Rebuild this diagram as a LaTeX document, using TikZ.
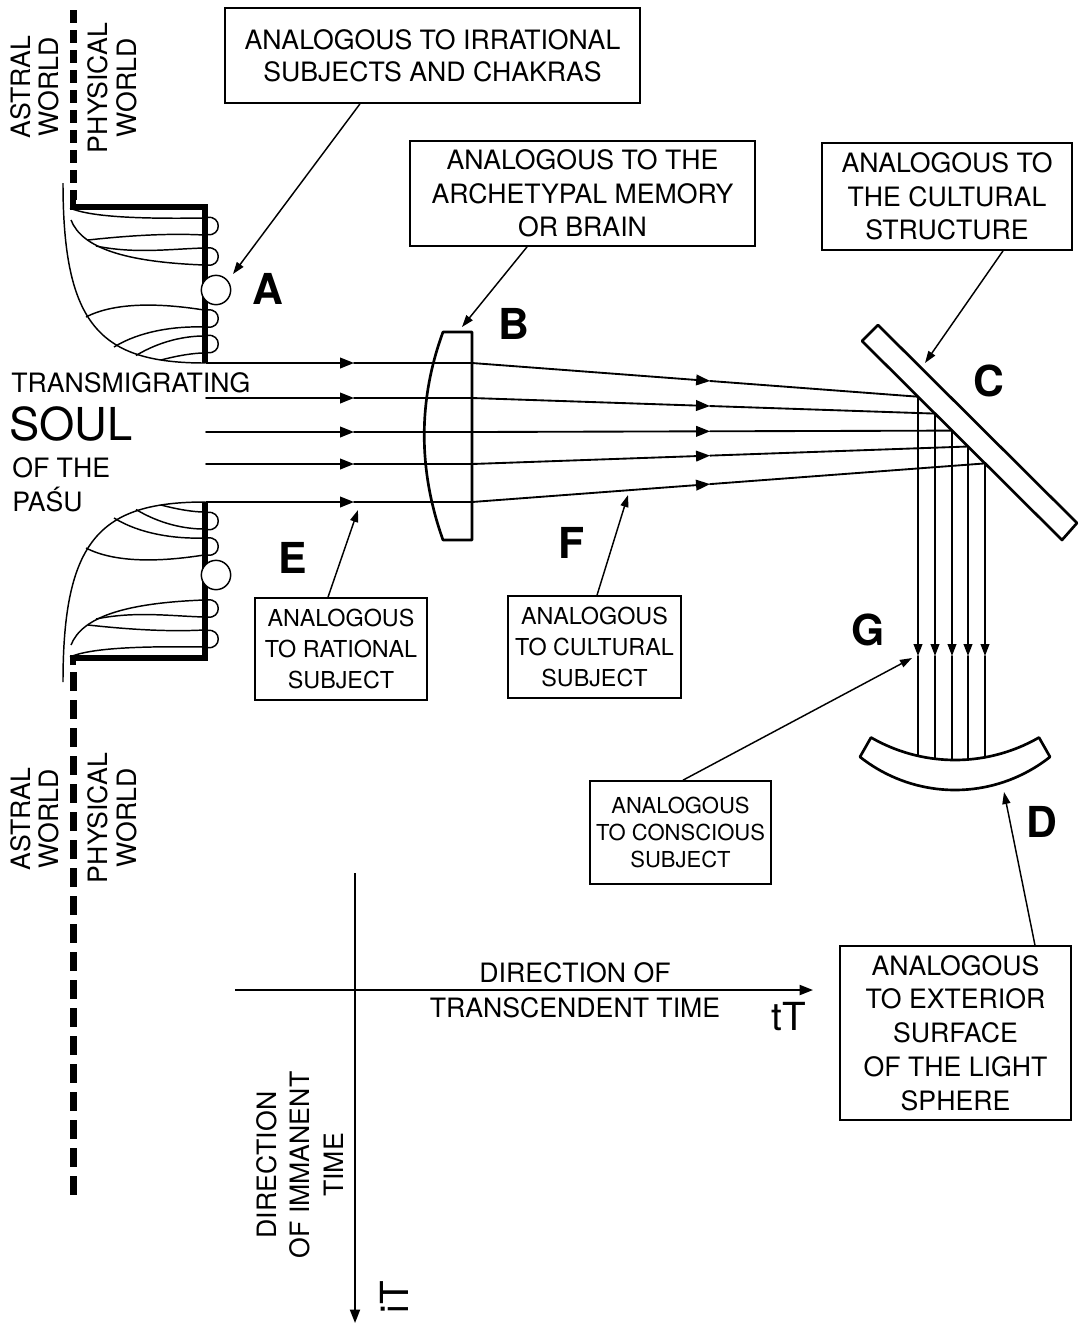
\documentclass[tikz,border=0pt]{standalone}
\usepackage{fontspec}
\setmainfont{TeX Gyre Heros}
\usetikzlibrary{arrows.meta,calc}
\begin{document}
\begin{tikzpicture}[x=0.75pt,y=-0.75pt,
  box/.style={draw, line width=1.3pt, inner sep=0pt, align=center},
  f20/.style={font=\fontsize{20}{25}\selectfont},
  f17/.style={font=\fontsize{17.5}{23}\selectfont},
  f16/.style={font=\fontsize{16.5}{20.5}\selectfont},
  ray/.style={line width=1.4pt, line cap=round},
  harr/.style={ray,-{Triangle[length=10.5pt,width=8pt]}},
  varr/.style={ray,-{Triangle[length=9pt,width=6.5pt]}},
  axisline/.style={line width=1.4pt,-{Triangle[length=10pt,width=7.5pt]}},
  conn/.style={line width=1.1pt,-{Triangle[length=9pt,width=6pt]}},
  optic/.style={line width=2pt, line join=round},
  bar/.style={line width=4.5pt, line join=miter},
  strand/.style={line width=1.1pt},
  dashline/.style={line width=5.25pt},
  letter/.style={inner sep=0pt, font=\fontsize{32}{32}\selectfont\bfseries},
  lbl/.style={inner sep=0pt, align=center},
]
\useasboundingbox[fill=white] (0,0) rectangle (1083,1325);

% dashed world boundary
\draw[dashline, dash pattern=on 9.75pt off 5.25pt] (73,10) -- (73,200);
\draw[dashline, dash pattern=on 14.25pt off 6.75pt] (73,672) -- (73,1197);

% the two bowls (bottom one is mirrored)
\foreach \sh/\ys in {0/1,865/-1}{
 \begin{scope}[shift={(0,\sh)}, yscale=\ys]
   \draw[bar] (73,200) -- (73,207) -- (205,207) -- (205,363);
   \draw[strand] (63,183) .. controls (63,325) and (100,363) .. (205,363);
   \draw[strand] (70,208) .. controls (90,217) and (140,219) .. (204,218);
   \draw[strand] (71,220) .. controls (82,248) and (125,262) .. (204,265);
   \draw[strand] (88,240) .. controls (125,236) and (165,233) .. (204,235);
   \draw[strand] (96,246) .. controls (135,254) and (170,249) .. (204,248);
   \draw[strand] (86,317) .. controls (115,302) and (160,303) .. (204,310);
   \draw[strand] (114,347) .. controls (140,331) and (175,326) .. (204,327);
   \draw[strand] (136,355.5) .. controls (160,341) and (185,336) .. (204,336);
   \draw[strand] (161,360) .. controls (180,355) and (195,353) .. (204,353);
   \foreach \c in {226,256.5,318.5,344}
     \draw[strand] (207,\c-8.5) .. controls (222,\c-11) and (222,\c+11) .. (207,\c+8.5);
   \draw[strand, fill=white] (216,290) circle[radius=11pt];
 \end{scope}
}

% rays
\foreach \i/\y/\hx/\hy/\dy/\f in {1/363/918/396.7/755.9/0.534, 2/398/935/413.6/758.8/0.514, 3/432/952/430.6/760/0.496, 4/464/968/446.5/759.5/0.48, 5/502/985/463.4/757.3/0.464}{
  \coordinate (s\i) at (206,\y);
  \coordinate (a\i) at (354,\y);
  \coordinate (l\i) at (472,\y);
  \coordinate (h\i) at (\hx,\hy);
  \coordinate (m\i) at ($(l\i)!\f!(h\i)$);
  \coordinate (g\i) at (\hx,656);
  \coordinate (d\i) at (\hx,\dy);
  \draw[harr] (s\i) -- (a\i);
  \draw[ray] (a\i) -- (l\i);
  \draw[harr] (l\i) -- (m\i);
  \draw[ray] (m\i) -- (h\i);
  \draw[varr] (h\i) -- (g\i);
  \draw[ray] (g\i) -- (d\i);
}

% lens B
\draw[optic] (443,332) -- (472,332) -- (472,540) -- (443,540) .. controls (418,470) and (418,400) .. (443,332) -- cycle;
% mirror C
\draw[optic] (878,325) -- (1077,523) -- (1062,540) -- (862,341) -- cycle;
% mirror D
\draw[optic] plot[domain=60:120,samples=40] ({955+168*cos(\x)},{592+168*sin(\x)}) -- plot[domain=128.4:51.6,samples=40] ({955+153*cos(\x)},{637+153*sin(\x)}) -- cycle;

% letters
\node[letter] (A) at (268,289) {A};
\node[letter] (B) at (514,324) {B};
\node[letter] (C) at (989,381) {C};
\node[letter] (D) at (1042,822) {D};
\node[letter] (E) at (293,558) {E};
\node[letter] (F) at (572,543) {F};
\node[letter] (G) at (868,630) {G};

% boxes
\node[box, font=\fontsize{20}{24}\selectfont, minimum width=311.25pt, minimum height=71.25pt] (b1) at (432.5,55.5) {ANALOGOUS TO IRRATIONAL\\SUBJECTS AND CHAKRAS};
\node[box, f20, minimum width=258.75pt, minimum height=78.75pt] (b2) at (582.5,193.5) {ANALOGOUS TO THE\\ARCHETYPAL MEMORY\\OR BRAIN};
\node[box, f20, minimum width=187.5pt, minimum height=80.25pt] (b3) at (947,196.5) {ANALOGOUS TO\\THE CULTURAL\\STRUCTURE};
\node[box, f17, minimum width=129pt, minimum height=76.5pt] (b4) at (341,649) {ANALOGOUS\\TO RATIONAL\\SUBJECT};
\node[box, f17, minimum width=129.75pt, minimum height=76.5pt] (b5) at (594.5,647) {ANALOGOUS\\TO CULTURAL\\SUBJECT};
\node[box, f16, minimum width=135.75pt, minimum height=77.25pt] (b6) at (680.5,832.5) {ANALOGOUS\\TO CONSCIOUS\\SUBJECT};
\node[box, font=\fontsize{20}{25.4}\selectfont, minimum width=173.25pt, minimum height=130.5pt] (b7) at (955.5,1033) {ANALOGOUS\\TO EXTERIOR\\SURFACE\\OF THE LIGHT\\SPHERE};

% connector targets
\coordinate (tA) at (233,274);
\coordinate (tB) at (462,327);
\coordinate (tC) at (925,363);
\coordinate (tE) at (358,510);
\coordinate (tF) at (628,495);
\coordinate (tG) at (912,658);
\coordinate (tD) at (1004,792);
\draw[conn] ([xshift=-54.4pt]b1.south) -- (tA);
\draw[conn] ([xshift=-41.6pt]b2.south) -- (tB);
\draw[conn] ([xshift=42pt]b3.south) -- (tC);
\draw[conn] ([xshift=-9.75pt]b4.north) -- (tE);
\draw[conn] ([xshift=1.9pt]b5.north) -- (tF);
\draw[conn] ([xshift=1.9pt]b6.north) -- (tG);
\draw[conn] ([xshift=59.6pt]b7.north) -- (tD);

% left texts
\node[anchor=base west, inner sep=0pt, font=\fontsize{20}{20}\selectfont] (trans) at (11,392) {TRANSMIGRATING};
\node[anchor=base west, inner sep=0pt, font=\fontsize{34}{34}\selectfont] (soul) at (9,440) {SOUL};
\node[anchor=base west, inner sep=0pt, font=\fontsize{20}{20}\selectfont] (ofthe) at (12,477) {OF THE};
\node[anchor=base west, inner sep=0pt, font=\fontsize{20}{20}\selectfont] (pasu) at (12,511) {PAŚU};

% world labels
\node[lbl, rotate=90, font=\fontsize{20}{21}\selectfont] (astral1) at (35,87) {ASTRAL\\WORLD};
\node[lbl, rotate=90, font=\fontsize{20}{22}\selectfont] (phys1) at (112,88) {PHYSICAL\\WORLD};
\node[lbl, rotate=90, font=\fontsize{20}{21}\selectfont] (astral2) at (35,819) {ASTRAL\\WORLD};
\node[lbl, rotate=90, font=\fontsize{20}{22}\selectfont] (phys2) at (112,818) {PHYSICAL\\WORLD};

% time axes
\coordinate (ox) at (235,990);
\coordinate (tx) at (813,990);
\coordinate (oy) at (355,873);
\coordinate (ty) at (355,1323);
\draw[axisline] (ox) -- (tx);
\draw[axisline] (oy) -- (ty);
\node[lbl, font=\fontsize{20}{26}\selectfont] (transc) at (575,990) {DIRECTION OF\\TRANSCENDENT TIME};
\node[lbl, rotate=90, font=\fontsize{20}{25}\selectfont] (imman) at (300,1165) {DIRECTION\\OF IMMANENT\\TIME};
\node[inner sep=0pt, font=\fontsize{29}{29}\selectfont] (tT) at (789,1017) {tT};
\node[inner sep=0pt, rotate=90, font=\fontsize{29}{29}\selectfont] (iT) at (394,1297) {iT};
\end{tikzpicture}
\end{document}
